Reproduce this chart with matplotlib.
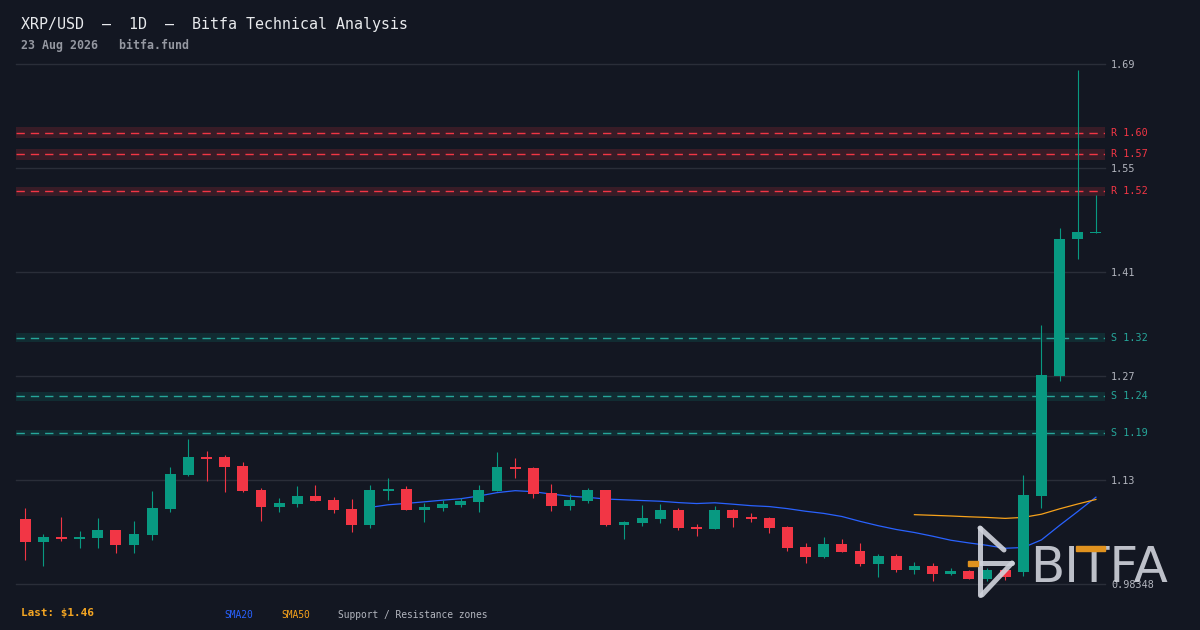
import matplotlib
matplotlib.use("Agg")
from matplotlib import pyplot as plt
from matplotlib.lines import Line2D
from matplotlib.patches import Rectangle
from matplotlib import transforms
import numpy as np
import pandas as pd

# daily candles, oldest first
opens = [1.0726, 1.0417, 1.0481, 1.0457, 1.0471, 1.0576, 1.0376, 1.0512, 1.0867, 1.1331,
         1.1573, 1.1573, 1.1450, 1.1122, 1.0894, 1.0935, 1.1041, 1.0986, 1.0863, 1.0649,
         1.1113, 1.1136, 1.0853, 1.0881, 1.0922, 1.0963, 1.1109, 1.1436, 1.1423, 1.1081,
         1.0908, 1.0976, 1.1122, 1.0649, 1.0676, 1.0731, 1.0849, 1.0617, 1.0594, 1.0849,
         1.0754, 1.0740, 1.0617, 1.0344, 1.0212, 1.0385, 1.0290, 1.0116, 1.0221, 1.0034,
         1.0085, 0.9980, 1.0021, 0.9911, 1.0030, 1.0007, 1.1045, 1.2679, 1.4540, 1.4628]
highs = [1.0877, 1.0522, 1.0754, 1.0563, 1.0740, 1.0576, 1.0699, 1.1109, 1.1436, 1.1819,
         1.1655, 1.1600, 1.1505, 1.1150, 1.1013, 1.1177, 1.1191, 1.1027, 1.1000, 1.1191,
         1.1286, 1.1177, 1.0945, 1.0986, 1.1013, 1.1191, 1.1641, 1.1559, 1.1436, 1.1204,
         1.1068, 1.1150, 1.1122, 1.0699, 1.0918, 1.0931, 1.0877, 1.0658, 1.0904, 1.0863,
         1.0808, 1.0754, 1.0631, 1.0399, 1.0481, 1.0453, 1.0399, 1.0249, 1.0249, 1.0139,
         1.0126, 1.0062, 1.0034, 1.0062, 1.0057, 1.1327, 1.3375, 1.4696, 1.6857, 1.5150]
lows = [1.0167, 1.0089, 1.0430, 1.0335, 1.0335, 1.0266, 1.0266, 1.0444, 1.0826, 1.1318,
        1.1249, 1.1099, 1.1099, 1.0703, 1.0826, 1.0894, 1.0976, 1.0812, 1.0553, 1.0608,
        1.0990, 1.0853, 1.0690, 1.0840, 1.0894, 1.0826, 1.1109, 1.1290, 1.1017, 1.0840,
        1.0853, 1.0949, 1.0635, 1.0457, 1.0635, 1.0676, 1.0580, 1.0498, 1.0594, 1.0621,
        1.0690, 1.0539, 1.0294, 1.0130, 1.0198, 1.0280, 1.0089, 0.9939, 1.0007, 0.9980,
        0.9884, 0.9966, 0.9911, 0.9884, 0.9894, 0.9952, 1.0881, 1.2615, 1.4276, 1.4622]
closes = [1.0417, 1.0481, 1.0457, 1.0481, 1.0576, 1.0376, 1.0522, 1.0877, 1.1341, 1.1573,
          1.1550, 1.1441, 1.1109, 1.0894, 1.0945, 1.1041, 1.0976, 1.0853, 1.0649, 1.1122,
          1.1136, 1.0853, 1.0890, 1.0931, 1.0972, 1.1122, 1.1436, 1.1413, 1.1072, 1.0908,
          1.0986, 1.1122, 1.0649, 1.0685, 1.0740, 1.0849, 1.0608, 1.0594, 1.0849, 1.0744,
          1.0731, 1.0608, 1.0335, 1.0212, 1.0385, 1.0280, 1.0116, 1.0221, 1.0034, 1.0085,
          0.9980, 1.0021, 0.9911, 1.0034, 0.9935, 1.1054, 1.2693, 1.4550, 1.4645, 1.4649]

# support / resistance zones
zone_kind = ["R", "R", "R", "S", "S", "S"]
zone_level = [1.60, 1.57, 1.52, 1.32, 1.24, 1.19]
zone_half = [0.0072, 0.0072, 0.0060, 0.0060, 0.0060, 0.0045]

ytick_vals = [0.98348, 1.12548, 1.26748, 1.40948, 1.55148, 1.69348]
ytick_labels = ["0.98348", "1.13", "1.27", "1.41", "1.55", "1.69"]

BG = "#131722"
GREEN = "#089981"
RED = "#f23645"
MONO = "DejaVu Sans Mono"

df = pd.DataFrame({"open": opens, "high": highs, "low": lows, "close": closes})
df["sma20"] = df["close"].rolling(20).mean()
df["sma50"] = df["close"].rolling(50).mean()
x = np.arange(len(df))
up = df["close"] >= df["open"]
colors = np.where(up, GREEN, RED)

fig = plt.figure(figsize=(12, 6.3), dpi=100, facecolor=BG)
ax = fig.add_axes([16/1200, 1-584.3/630, 1089/1200, 520.3/630])
ax.set_facecolor(BG)
ax.set_xlim(-0.5, len(df) - 0.5)
ax.set_ylim(ytick_vals[0], ytick_vals[-1])
for s in ax.spines.values():
    s.set_visible(False)
ax.set_xticks([])
ax.yaxis.tick_right()
ax.set_yticks(ytick_vals)
ax.set_yticklabels(ytick_labels, family=MONO, fontsize=7.3, color="#b2b5be")
ax.tick_params(axis="y", length=0, pad=4.3)
for v in ytick_vals:
    ax.axhline(v, color="#2a2e39", lw=1, zorder=0.5, clip_on=False)

# zones
trans = transforms.blended_transform_factory(ax.transAxes, ax.transData)
for kind, lvl, hw in zip(zone_kind, zone_level, zone_half):
    c = RED if kind == "R" else GREEN
    lc = RED if kind == "R" else "#26a69a"
    ax.axhspan(lvl - hw, lvl + hw, color=c, alpha=0.17, lw=0, zorder=1)
    ax.axhline(lvl, color=lc, lw=1, ls=(0, (6, 4.3)), zorder=2)
    ax.text(1.0055, lvl, "{} {:.2f}".format(kind, lvl), transform=trans, color=lc,
            family=MONO, fontsize=7.3, va="center", ha="left")

# moving averages (behind candles)
ax.plot(x, df["sma20"], color="#2962ff", lw=0.9, zorder=2.5)
ax.plot(x, df["sma50"], color="#f7a21b", lw=0.9, zorder=2.5)

# candles
ax.vlines(x, df["low"], df["high"], colors=colors, lw=0.8, zorder=3)
body_lo = np.minimum(df["open"], df["close"])
body_h = np.abs(df["close"] - df["open"])
ax.bar(x, body_h, bottom=body_lo, width=0.6, color=colors, lw=0, zorder=3.5)

# header
fig.text(21/1200, 1-24/630, "XRP/USD  \u2013  1D  \u2013  Bitfa Technical Analysis",
         family=MONO, fontsize=10.8, color="#e8eaed", va="center", ha="left")
fig.text(21/1200, 1-45/630, "23 Aug 2026   bitfa.fund", family=MONO, fontsize=8.4,
         color="#9598a1", fontweight="bold", va="center", ha="left")

# footer
fig.text(21/1200, 1-613/630, "Last: ${:.2f}".format(closes[-1]), family=MONO, fontsize=7.9,
         color="#f5a623", fontweight="bold", va="center", ha="left")
fig.text(224/1200, 1-615/630, "SMA20", family=MONO, fontsize=6.9, color="#2962ff", va="center")
fig.text(281/1200, 1-615/630, "SMA50", family=MONO, fontsize=6.9, color="#f7a21b", va="center")
fig.text(338/1200, 1-615/630, "Support / Resistance zones", family=MONO, fontsize=6.9,
         color="#b2b5be", va="center")

# watermark logo
def fx(px):
    return px / 1200

def fy(py):
    return 1 - py / 630

logo_c = "#d1d4dc"
segs = [((980, 528), (980, 595)), ((980, 528), (1004, 550)),
        ((977, 563), (1012, 563)), ((1012, 563), (982, 595))]
for (x0, y0), (x1, y1) in segs:
    fig.add_artist(Line2D([fx(x0), fx(x1)], [fy(y0), fy(y1)], color=logo_c, lw=3.6,
                          alpha=0.9, solid_capstyle="round", zorder=10))
fig.add_artist(Rectangle((fx(968), fy(566)), fx(10), 5/630, color="#e0921f", zorder=10))
fig.text(fx(1030), fy(582), "BITFA", fontsize=36, color=logo_c, alpha=0.9,
         family="DejaVu Sans", va="baseline", ha="left", zorder=10)
fig.add_artist(Rectangle((fx(1076), fy(550.5)), fx(29), 5/630, color="#e0921f", zorder=11))

fig.savefig("out.png", dpi=100, facecolor=BG)
